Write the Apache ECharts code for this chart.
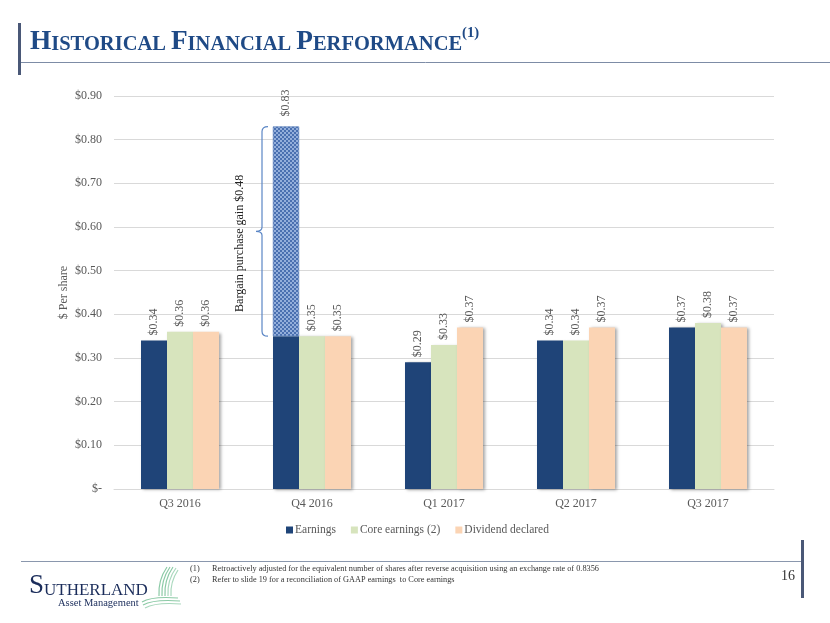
<!DOCTYPE html>
<html>
<head>
<meta charset="utf-8">
<style>
html,body{margin:0;padding:0;background:#fff;}
#main{width:830px;height:623px;}
</style>
<script src="https://cdn.jsdelivr.net/npm/echarts@6/dist/echarts.min.js"></script>
</head>
<body>
<div id="main"></div>
<script>
// ---- data ----
const categories = ['Q3 2016', 'Q4 2016', 'Q1 2017', 'Q2 2017', 'Q3 2017'];
const earnings = [0.34, 0.35, 0.29, 0.34, 0.37];
const coreEarnings = [0.36, 0.35, 0.33, 0.34, 0.38];
const dividends = [0.36, 0.35, 0.37, 0.37, 0.37];
const bargainGain = ['-', 0.48, '-', '-', '-'];
const legendNames = ['Earnings', 'Core earnings (2)', 'Dividend declared'];
const yMin = 0, yMax = 0.9, yStep = 0.1;
const footnotes = [
  ['(1)', 'Retroactively adjusted for the equivalent number of shares after reverse acquisition using an exchange rate of 0.8356'],
  ['(2)', 'Refer to slide 19 for a reconciliation of GAAP earnings  to Core earnings']
];
const pageNumber = '16';

// ---- styling ----
const SERIF = '"Liberation Serif", "Times New Roman", serif';
const GRAY = '#595959';
const BAR_W = 26;
const fmt = v => '$' + Number(v).toFixed(2);

const shadow = {shadowColor: 'rgba(0,0,0,0.35)', shadowBlur: 3, shadowOffsetX: 2, shadowOffsetY: 1};

function labelCfg(formatter, dist) {
  return {
    show: true, position: 'top', distance: dist || 5, rotate: 90,
    align: 'left', verticalAlign: 'middle',
    fontFamily: SERIF, fontSize: 12, color: GRAY,
    formatter: formatter
  };
}

// brace annotation data (derived from the series)
const braceIdx = bargainGain.findIndex(v => v !== '-');
const braceData = [[braceIdx, earnings[braceIdx], earnings[braceIdx] + bargainGain[braceIdx]]];
const braceText = 'Bargain purchase gain ' + fmt(bargainGain[braceIdx]);

const chart = echarts.init(document.getElementById('main'), null, {renderer: 'canvas'});

const footStyle = t => ({text: t, font: '9px ' + SERIF, fill: '#333'});

const option = {
  animation: false,
  backgroundColor: '#fff',
  title: {
    left: 25, top: 21,
    text: '{b|H}{s|ISTORICAL} {b|F}{s|INANCIAL} {b|P}{s|ERFORMANCE}{sup|(1)}',
    textStyle: {
      rich: {
        b: {fontFamily: SERIF, fontWeight: 'bold', fontSize: 27.3, color: '#1f4a86', lineHeight: 29, verticalAlign: 'bottom'},
        s: {fontFamily: SERIF, fontWeight: 'bold', fontSize: 20.5, color: '#1f4a86', lineHeight: 29, verticalAlign: 'bottom'},
        sup: {fontFamily: SERIF, fontWeight: 'bold', fontSize: 14.7, color: '#1f4a86', lineHeight: 29, verticalAlign: 'top'}
      }
    }
  },
  grid: {left: 114, right: 56, top: 96, bottom: 134, containLabel: false},
  legend: {
    data: legendNames,
    top: 519, left: 281,
    icon: 'rect', itemWidth: 7, itemHeight: 7, itemGap: 15,
    textStyle: {fontFamily: SERIF, fontSize: 11.5, color: GRAY, padding: [0, 0, 0, -3]}
  },
  xAxis: {
    type: 'category', data: categories,
    axisTick: {show: false},
    axisLine: {lineStyle: {color: '#d9d9d9'}},
    axisLabel: {fontFamily: SERIF, fontSize: 12, color: GRAY, margin: 9}
  },
  yAxis: {
    type: 'value', min: yMin, max: yMax, interval: yStep,
    name: '$ Per share', nameLocation: 'middle', nameGap: 44, nameMoveOverlap: false,
    nameTextStyle: {fontFamily: SERIF, fontSize: 12, color: GRAY},
    axisLine: {show: false}, axisTick: {show: false},
    splitLine: {lineStyle: {color: '#d9d9d9'}},
    axisLabel: {
      fontFamily: SERIF, fontSize: 12, color: GRAY, margin: 12,
      formatter: v => (Math.abs(v) < 1e-9 ? '$-' : fmt(v))
    }
  },
  series: [
    {
      name: 'Earnings', type: 'bar', stack: 'earn', barWidth: BAR_W, barGap: '0%',
      data: earnings,
      itemStyle: Object.assign({color: '#1f4478'}, shadow),
      label: labelCfg(p => (bargainGain[p.dataIndex] !== '-' ? '' : fmt(p.value)))
    },
    {
      name: 'Bargain purchase gain', type: 'bar', stack: 'earn', barWidth: BAR_W, barGap: '0%',
      data: bargainGain,
      itemStyle: {
        color: '#94afdb',
        borderColor: '#6f8fc2', borderWidth: 0.5,
        decal: {
          symbol: 'rect', symbolSize: 1, color: '#4a70b0',
          dashArrayX: [[2, 2], [0, 2, 2, 0]], dashArrayY: [2, 0], rotation: 0
        }
      },
      label: labelCfg(p => fmt(earnings[p.dataIndex] + p.value), 10)
    },
    {
      name: 'Core earnings (2)', type: 'bar', barWidth: BAR_W, barGap: '0%',
      data: coreEarnings,
      itemStyle: Object.assign({color: '#d7e4bd'}, shadow),
      label: labelCfg(p => fmt(p.value))
    },
    {
      name: 'Dividend declared', type: 'bar', barWidth: BAR_W, barGap: '0%',
      data: dividends,
      itemStyle: Object.assign({color: '#fbd4b4'}, shadow),
      label: labelCfg(p => fmt(p.value))
    },
    {
      name: 'brace', type: 'custom', silent: true, z: 5,
      data: braceData,
      renderItem: function (params, api) {
        const lo = api.coord([api.value(0), api.value(1)]);
        const hi = api.coord([api.value(0), api.value(2)]);
        const groupHalf = BAR_W * 1.5;
        const x = lo[0] - groupHalf - 11;
        const top = hi[1], bot = lo[1], mid = (top + bot) / 2;
        const d = 'M' + (x + 6) + ' ' + top +
          ' Q' + x + ' ' + top + ' ' + x + ' ' + (top + 5) +
          ' L' + x + ' ' + (mid - 4) +
          ' Q' + x + ' ' + mid + ' ' + (x - 6) + ' ' + mid +
          ' Q' + x + ' ' + mid + ' ' + x + ' ' + (mid + 4) +
          ' L' + x + ' ' + (bot - 5) +
          ' Q' + x + ' ' + bot + ' ' + (x + 6) + ' ' + bot;
        return {
          type: 'group',
          children: [
            {type: 'path', shape: {pathData: d}, style: {stroke: '#5b86c5', lineWidth: 1.2, fill: null}},
            {
              type: 'text', x: x - 22, y: mid + 12, rotation: Math.PI / 2,
              style: {text: braceText, fill: '#222', font: '12px ' + SERIF, align: 'center', verticalAlign: 'middle'}
            }
          ]
        };
      }
    }
  ],
  graphic: [
    // title decorations
    {type: 'rect', shape: {x: 18, y: 23, width: 3, height: 52}, style: {fill: '#4a5877'}},
    {type: 'line', shape: {x1: 21, y1: 62.5, x2: 830, y2: 62.5}, style: {stroke: '#7d8ca6', lineWidth: 1}},
    // footer lines
    {type: 'line', shape: {x1: 21, y1: 561.5, x2: 802, y2: 561.5}, style: {stroke: '#8a97ad', lineWidth: 1}},
    {type: 'rect', shape: {x: 801, y: 540, width: 3, height: 58}, style: {fill: '#4a5877'}},
    {type: 'text', x: 781, y: 569, style: {text: pageNumber, font: '14px ' + SERIF, fill: '#333'}},
    // footnotes
    {type: 'text', x: 190, y: 564, scaleX: 0.92, style: footStyle(footnotes[0][0])},
    {type: 'text', x: 212, y: 564, scaleX: 0.92, style: footStyle(footnotes[0][1])},
    {type: 'text', x: 190, y: 575, scaleX: 0.92, style: footStyle(footnotes[1][0])},
    {type: 'text', x: 212, y: 575, scaleX: 0.92, style: footStyle(footnotes[1][1])},
    // logo
    {
      type: 'text', x: 29, y: 573,
      style: {
        text: '{a|S}{b|UTHERLAND}',
        rich: {
          a: {font: '27px ' + SERIF, fill: '#1b2d5b', color: '#1b2d5b', verticalAlign: 'bottom', lineHeight: 26},
          b: {font: '17px ' + SERIF, fill: '#1b2d5b', color: '#1b2d5b', verticalAlign: 'bottom', lineHeight: 26}
        }
      }
    },
    {type: 'text', x: 58, y: 598, style: {text: 'Asset Management', font: '10.5px ' + SERIF, fill: '#1b2d5b'}},
    {type: 'bezierCurve', shape: {x1: 159, y1: 596, cpx1: 158, cpy1: 580, x2: 167, y2: 567}, style: {stroke: '#8ccaa6', lineWidth: 1.2}},
    {type: 'bezierCurve', shape: {x1: 162, y1: 596, cpx1: 161, cpy1: 580, x2: 170, y2: 567}, style: {stroke: '#8ccaa6', lineWidth: 1.2}},
    {type: 'bezierCurve', shape: {x1: 165, y1: 596, cpx1: 164, cpy1: 580, x2: 173, y2: 567}, style: {stroke: '#8ccaa6', lineWidth: 1.2}},
    {type: 'bezierCurve', shape: {x1: 168, y1: 596, cpx1: 167, cpy1: 580, x2: 176, y2: 568}, style: {stroke: '#a9d8bd', lineWidth: 1.2}},
    {type: 'bezierCurve', shape: {x1: 171, y1: 596, cpx1: 170, cpy1: 582, x2: 178, y2: 570}, style: {stroke: '#a9d8bd', lineWidth: 1.2}},
    {type: 'bezierCurve', shape: {x1: 142, y1: 602, cpx1: 152, cpy1: 596, x2: 178, y2: 598}, style: {stroke: '#8ccaa6', lineWidth: 1.2}},
    {type: 'bezierCurve', shape: {x1: 143, y1: 605, cpx1: 154, cpy1: 599, x2: 180, y2: 601}, style: {stroke: '#8ccaa6', lineWidth: 1.2}},
    {type: 'bezierCurve', shape: {x1: 145, y1: 608, cpx1: 156, cpy1: 602, x2: 181, y2: 604}, style: {stroke: '#a9d8bd', lineWidth: 1.2}}
  ]
};

chart.setOption(option);
</script>
</body>
</html>
